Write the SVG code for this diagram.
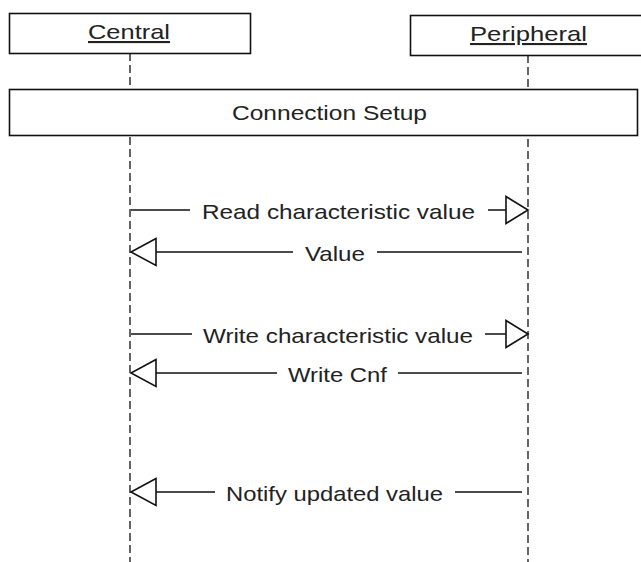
<svg xmlns="http://www.w3.org/2000/svg" width="641" height="562" viewBox="0 0 641 562">
<style>
.box{fill:#fff;stroke:#111;stroke-width:1.6}
.life{stroke:#111;stroke-width:1.3;stroke-dasharray:8,4;fill:none}
.ln{stroke:#111;stroke-width:1.5;fill:none}
.head{fill:#fff;stroke:#111;stroke-width:1.6;stroke-linejoin:miter}
text{font-family:"Liberation Sans",Arial,sans-serif;font-size:21px;fill:#222}
</style>
<rect width="641" height="562" fill="#fff"/>
<g id="lifelines">
<line class="life" x1="130" y1="53" x2="130" y2="562"/>
<line class="life" x1="528" y1="55" x2="528" y2="562"/>
</g>
<g id="central">
<rect class="box" x="9.5" y="13.5" width="241" height="40"/>
<text x="88" y="39" textLength="82" lengthAdjust="spacingAndGlyphs" text-decoration="underline">Central</text>
</g>
<g id="peripheral">
<rect class="box" x="410.5" y="15.5" width="241" height="40"/>
<text x="470" y="41" textLength="117" lengthAdjust="spacingAndGlyphs" text-decoration="underline">Peripheral</text>
</g>
<g id="connection-setup">
<rect class="box" x="9.5" y="89.5" width="628" height="46"/>
<text x="232" y="120" textLength="195" lengthAdjust="spacingAndGlyphs">Connection Setup</text>
</g>
<g id="connectors">
<g id="msg-read">
<line class="ln" x1="131" y1="210" x2="190" y2="210"/>
<line class="ln" x1="488" y1="210" x2="506" y2="210"/>
<polygon class="head" points="506,196.5 528,210 506,223.5"/>
<text x="202" y="219" textLength="273" lengthAdjust="spacingAndGlyphs">Read characteristic value</text>
</g>
<g id="msg-value">
<polygon class="head" points="156,238.5 131,252 156,265.5"/>
<line class="ln" x1="156" y1="252" x2="293" y2="252"/>
<line class="ln" x1="377" y1="252" x2="522" y2="252"/>
<text x="305" y="261" textLength="60" lengthAdjust="spacingAndGlyphs">Value</text>
</g>
<g id="msg-write">
<line class="ln" x1="131" y1="334" x2="192" y2="334"/>
<line class="ln" x1="485" y1="334" x2="506" y2="334"/>
<polygon class="head" points="506,320.5 528,334 506,347.5"/>
<text x="203" y="343" textLength="270" lengthAdjust="spacingAndGlyphs">Write characteristic value</text>
</g>
<g id="msg-write-cnf">
<polygon class="head" points="156,359.5 131,373 156,386.5"/>
<line class="ln" x1="156" y1="373" x2="277" y2="373"/>
<line class="ln" x1="398" y1="373" x2="522" y2="373"/>
<text x="288" y="382" textLength="99" lengthAdjust="spacingAndGlyphs">Write Cnf</text>
</g>
<g id="msg-notify">
<polygon class="head" points="156,478.5 131,492 156,505.5"/>
<line class="ln" x1="156" y1="492" x2="215" y2="492"/>
<line class="ln" x1="455" y1="492" x2="522" y2="492"/>
<text x="226" y="501" textLength="217" lengthAdjust="spacingAndGlyphs">Notify updated value</text>
</g>
</g>
</svg>
